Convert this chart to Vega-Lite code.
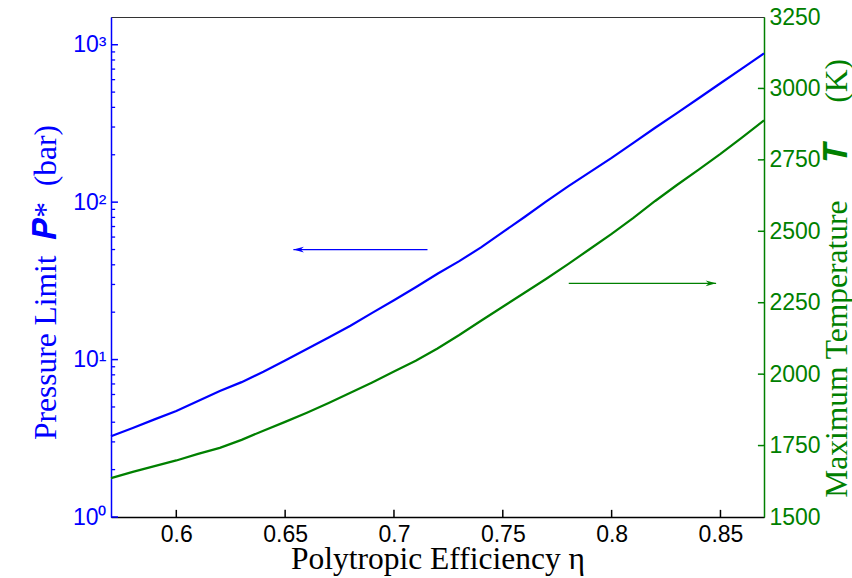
{
  "$schema": "https://vega.github.io/schema/vega-lite/v6.json",
  "width": 653,
  "height": 500,
  "autosize": {"type": "none"},
  "padding": {"left": 111, "top": 17, "right": 88, "bottom": 61},
  "background": "white",
  "config": {
    "view": {"stroke": "#333", "strokeWidth": 1},
    "axis": {
      "grid": false,
      "ticks": false,
      "labelFont": "Liberation Sans",
      "labelFontSize": 23,
      "titleFont": "Liberation Serif",
      "titleFontSize": 31.5,
      "titleFontWeight": "normal",
      "domainWidth": 1.5,
      "labelOverlap": false
    }
  },
  "datasets": {
    "curves": [
      {"eta": 0.57, "P": 3.26, "T": 1636},
      {"eta": 0.58, "P": 3.68, "T": 1658},
      {"eta": 0.59, "P": 4.17, "T": 1678},
      {"eta": 0.60, "P": 4.71, "T": 1698},
      {"eta": 0.61, "P": 5.46, "T": 1721},
      {"eta": 0.62, "P": 6.32, "T": 1742},
      {"eta": 0.63, "P": 7.19, "T": 1770},
      {"eta": 0.64, "P": 8.36, "T": 1802},
      {"eta": 0.65, "P": 9.86, "T": 1833},
      {"eta": 0.66, "P": 11.67, "T": 1865},
      {"eta": 0.67, "P": 13.8, "T": 1899},
      {"eta": 0.68, "P": 16.4, "T": 1935},
      {"eta": 0.69, "P": 19.8, "T": 1971},
      {"eta": 0.70, "P": 23.8, "T": 2009},
      {"eta": 0.71, "P": 28.8, "T": 2047},
      {"eta": 0.72, "P": 35.1, "T": 2090},
      {"eta": 0.73, "P": 42.2, "T": 2137},
      {"eta": 0.74, "P": 51.6, "T": 2187},
      {"eta": 0.75, "P": 64.5, "T": 2236},
      {"eta": 0.76, "P": 80.5, "T": 2285},
      {"eta": 0.77, "P": 101, "T": 2334},
      {"eta": 0.78, "P": 126, "T": 2385},
      {"eta": 0.79, "P": 155, "T": 2438},
      {"eta": 0.80, "P": 191, "T": 2491},
      {"eta": 0.81, "P": 238, "T": 2547},
      {"eta": 0.82, "P": 297, "T": 2606},
      {"eta": 0.83, "P": 368, "T": 2662},
      {"eta": 0.84, "P": 457, "T": 2716},
      {"eta": 0.85, "P": 569, "T": 2771},
      {"eta": 0.86, "P": 708, "T": 2829},
      {"eta": 0.87, "P": 881, "T": 2888}
    ],
    "arrowP": [{"eta": 0.7154, "eta2": 0.6538, "P": 50}],
    "arrowT": [{"eta": 0.7803, "eta2": 0.848, "T": 2318}],
    "xTicks": [{"eta": 0.6}, {"eta": 0.65}, {"eta": 0.7}, {"eta": 0.75}, {"eta": 0.8}, {"eta": 0.85}],
    "pMajor": [{"P": 1}, {"P": 10}, {"P": 100}, {"P": 1000}],
    "pMinor": [
      {"P": 2}, {"P": 3}, {"P": 4}, {"P": 5}, {"P": 6}, {"P": 7}, {"P": 8}, {"P": 9},
      {"P": 20}, {"P": 30}, {"P": 40}, {"P": 50}, {"P": 60}, {"P": 70}, {"P": 80}, {"P": 90},
      {"P": 200}, {"P": 300}, {"P": 400}, {"P": 500}, {"P": 600}, {"P": 700}, {"P": 800}, {"P": 900}
    ],
    "tTicks": [{"T": 1750}, {"T": 2000}, {"T": 2250}, {"T": 2500}, {"T": 2750}, {"T": 3000}]
  },
  "layer": [
    {
      "layer": [
        {
          "data": {"name": "curves"},
          "mark": {"type": "line", "color": "#0000ff", "strokeWidth": 2.2},
          "encoding": {
            "x": {
              "field": "eta",
              "type": "quantitative",
              "scale": {"domain": [0.57, 0.87], "nice": false, "zero": false},
              "axis": {
                "title": "Polytropic Efficiency η",
                "values": [0.6, 0.65, 0.7, 0.75, 0.8, 0.85],
                "labelExpr": "'' + datum.value",
                "labelPadding": 6,
                "labelFlush": false,
                "domainColor": "#000000",
                "labelColor": "#000000",
                "titleColor": "#000000",
                "titlePadding": -3
              }
            },
            "y": {
              "field": "P",
              "type": "quantitative",
              "scale": {"type": "log", "domain": [1, 1500], "nice": false},
              "axis": {
                "orient": "left",
                "title": "Pressure Limit\u2002𝑷*\u2002(bar)",
                "titleY": 265,
                "values": [1, 10, 100, 1000],
                "labelExpr": "datum.value == 1 ? '10⁰' : datum.value == 10 ? '10¹' : datum.value == 100 ? '10²' : '10³'",
                "labelPadding": 5,
                "domainColor": "#0000ff",
                "labelColor": "#0000ff",
                "titleColor": "#0000ff",
                "titlePadding": 10
              }
            }
          }
        },
        {
          "data": {"name": "xTicks"},
          "mark": {"type": "rule", "color": "#000000", "strokeWidth": 1.5},
          "encoding": {
            "x": {"field": "eta", "type": "quantitative"},
            "y": {"datum": 1, "type": "quantitative"},
            "y2": {"datum": 1.11}
          }
        },
        {
          "data": {"name": "pMajor"},
          "mark": {"type": "rule", "color": "#0000ff", "strokeWidth": 1.5},
          "encoding": {
            "x": {"datum": 0.57, "type": "quantitative"},
            "x2": {"datum": 0.5732},
            "y": {"field": "P", "type": "quantitative"}
          }
        },
        {
          "data": {"name": "pMinor"},
          "mark": {"type": "rule", "color": "#0000ff", "strokeWidth": 1.3},
          "encoding": {
            "x": {"datum": 0.57, "type": "quantitative"},
            "x2": {"datum": 0.5719},
            "y": {"field": "P", "type": "quantitative"}
          }
        },
        {
          "data": {"name": "arrowP"},
          "mark": {"type": "rule", "color": "#0000ff", "strokeWidth": 1.3},
          "encoding": {
            "x": {"field": "eta", "type": "quantitative"},
            "x2": {"field": "eta2"},
            "y": {"field": "P", "type": "quantitative"}
          }
        },
        {
          "data": {"name": "arrowP"},
          "mark": {"type": "point", "shape": "M0,0 L2,-0.55 L1.4,0 L2,0.55 Z", "filled": true, "color": "#0000ff", "size": 110, "opacity": 1},
          "encoding": {
            "x": {"field": "eta2", "type": "quantitative"},
            "y": {"field": "P", "type": "quantitative"}
          }
        }
      ]
    },
    {
      "layer": [
        {
          "data": {"name": "curves"},
          "mark": {"type": "line", "color": "#008000", "strokeWidth": 2.2},
          "encoding": {
            "x": {"field": "eta", "type": "quantitative"},
            "y": {
              "field": "T",
              "type": "quantitative",
              "scale": {"domain": [1500, 3250], "nice": false, "zero": false},
              "axis": {
                "orient": "right",
                "title": "Maximum Temperature \u2003𝑻 \u2003(K)",
                "titleY": 261,
                "values": [1500, 1750, 2000, 2250, 2500, 2750, 3000, 3250],
                "format": "d",
                "labelPadding": 5,
                "domainColor": "#008000",
                "labelColor": "#008000",
                "titleColor": "#008000",
                "titleAngle": 270,
                "titleBaseline": "top",
                "titlePadding": 1
              }
            }
          }
        },
        {
          "data": {"name": "tTicks"},
          "mark": {"type": "rule", "color": "#008000", "strokeWidth": 1.5},
          "encoding": {
            "x": {"datum": 0.87, "type": "quantitative"},
            "x2": {"datum": 0.8672},
            "y": {"field": "T", "type": "quantitative"}
          }
        },
        {
          "data": {"name": "arrowT"},
          "mark": {"type": "rule", "color": "#008000", "strokeWidth": 1.3},
          "encoding": {
            "x": {"field": "eta", "type": "quantitative"},
            "x2": {"field": "eta2"},
            "y": {"field": "T", "type": "quantitative"}
          }
        },
        {
          "data": {"name": "arrowT"},
          "mark": {"type": "point", "shape": "M0,0 L-2,-0.55 L-1.4,0 L-2,0.55 Z", "filled": true, "color": "#008000", "size": 110, "opacity": 1},
          "encoding": {
            "x": {"field": "eta2", "type": "quantitative"},
            "y": {"field": "T", "type": "quantitative"}
          }
        }
      ]
    }
  ],
  "resolve": {"scale": {"y": "independent"}}
}
